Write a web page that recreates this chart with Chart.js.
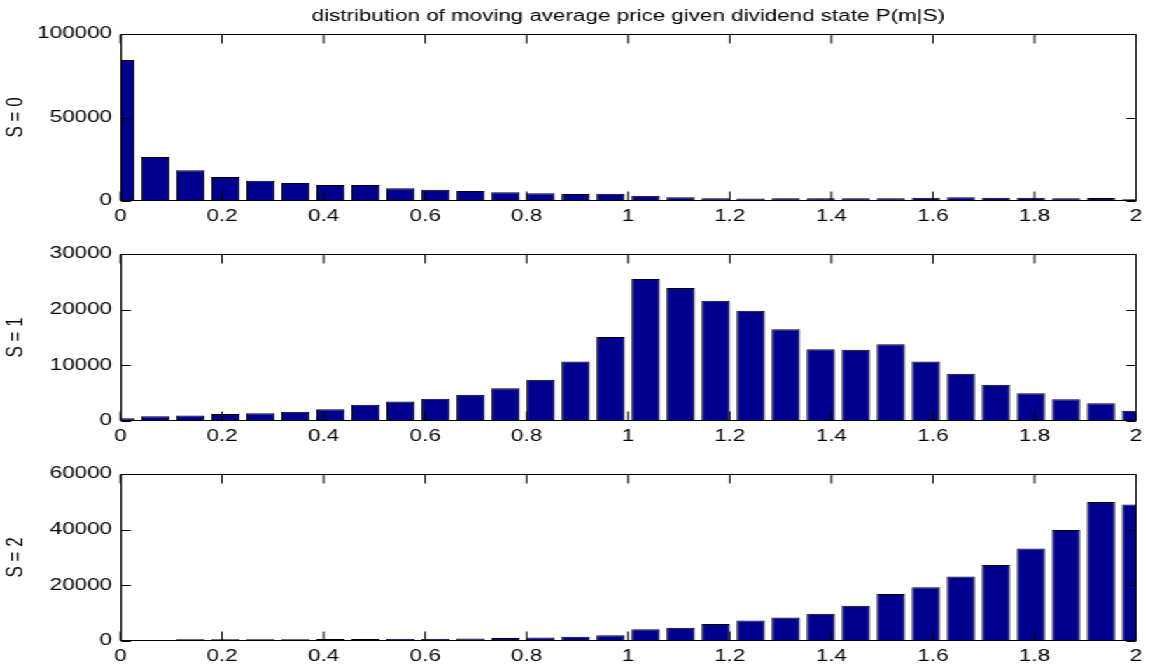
<!DOCTYPE html>
<html>
<head>
<meta charset="utf-8">
<script src="https://cdn.jsdelivr.net/npm/chart.js@4/dist/chart.umd.min.js"></script>
<style>
body{margin:0;background:#fff;width:1151px;height:671px;overflow:hidden}
/* the original figure is stretched sideways, so draw narrow and widen */
#wrap{position:absolute;left:0;top:0;width:822px;height:671px;transform:scaleX(1.4);transform-origin:0 0}
canvas{position:absolute;left:0}
</style>
</head>
<body>
<div id="wrap">
  <canvas id="c0" width="822" height="232" style="top:0"></canvas>
  <canvas id="c1" width="822" height="232" style="top:220px"></canvas>
  <canvas id="c2" width="822" height="231" style="top:440px"></canvas>
</div>
<script>
const plotTitle = 'distribution of moving average price given dividend state P(m|S)';
const panelLabels = ['S = 0', 'S = 1', 'S = 2'];

// bin centres of the moving average price m
const binCenters = [0, 0.069, 0.1379, 0.2069, 0.2759, 0.3448, 0.4138, 0.4828, 0.5517, 0.6207,
  0.6897, 0.7586, 0.8276, 0.8966, 0.9655, 1.0345, 1.1034, 1.1724, 1.2414, 1.3103,
  1.3793, 1.4483, 1.5172, 1.5862, 1.6552, 1.7241, 1.7931, 1.8621, 1.931, 2];

// counts per bin for each dividend state
const countsS0 = [84400, 26400, 18400, 14400, 12200, 10800, 9600, 9600, 7600, 6800,
  6000, 5200, 4600, 4200, 4400, 3200, 2200, 1600, 1500, 1600,
  1600, 1600, 1600, 2000, 2200, 2000, 2000, 1600, 1800, 1000];
const countsS1 = [500, 850, 1000, 1250, 1400, 1650, 2100, 2900, 3500, 4000,
  4700, 5900, 7400, 10700, 15100, 25500, 23900, 21600, 19800, 16500,
  12900, 12800, 13800, 10700, 8500, 6500, 5000, 3900, 3200, 1850];
const countsS2 = [150, 350, 600, 600, 600, 600, 700, 700, 800, 850,
  900, 1050, 1300, 1550, 2050, 4200, 4800, 6100, 7400, 8400,
  9800, 12700, 16900, 19300, 23200, 27300, 33200, 39900, 49900, 49000];

const xTicks = [0, 0.2, 0.4, 0.6, 0.8, 1, 1.2, 1.4, 1.6, 1.8, 2];
const yTicksS0 = [0, 50000, 100000];
const yTicksS1 = [0, 10000, 20000, 30000];
const yTicksS2 = [0, 20000, 40000, 60000];

Chart.defaults.font.family = '"Liberation Sans", Arial, Helvetica, sans-serif';
Chart.defaults.font.size = 16;
Chart.defaults.color = '#000';

// matlab style box with inward ticks on all four sides
const frame = {
  id: 'frame',
  afterDatasetsDraw(chart, args, opts) {
    const {ctx, chartArea: a, scales: {x, y}} = chart;
    const L = Math.round(a.left) + 0.5, R = Math.round(a.right) - 0.5;
    const T = Math.round(a.top) + 0.5, B = Math.round(a.bottom) - 0.5;
    ctx.save();
    ctx.strokeStyle = '#000';
    ctx.lineWidth = 1;
    ctx.strokeRect(L, T, R - L, B - T);
    ctx.beginPath();
    x.ticks.forEach(t => {
      const px = x.getPixelForValue(t.value);
      ctx.moveTo(px, B); ctx.lineTo(px, B - 9);
      ctx.moveTo(px, T); ctx.lineTo(px, T + 9);
    });
    y.ticks.forEach(t => {
      const py = Math.round(y.getPixelForValue(t.value)) + 0.5;
      ctx.moveTo(L, py); ctx.lineTo(L + 7, py);
      ctx.moveTo(R, py); ctx.lineTo(R - 7, py);
    });
    ctx.stroke();
    if (opts.title) {
      ctx.fillStyle = '#000';
      ctx.font = '16px "Liberation Sans", Arial, sans-serif';
      ctx.textAlign = 'center';
      ctx.textBaseline = 'alphabetic';
      ctx.fillText(opts.title, (a.left + a.right) / 2, 21);
    }
    ctx.restore();
  }
};

function makePanel(id, counts, yTicks, label, title) {
  const cv = document.getElementById(id);
  const H = cv.height;
  new Chart(cv, {
    type: 'bar',
    data: {
      datasets: [{
        data: binCenters.map((m, i) => ({x: m, y: counts[i]})),
        backgroundColor: '#00008F',
        borderColor: '#000',
        borderWidth: 1,
        barPercentage: 0.81,
        categoryPercentage: 1
      }]
    },
    options: {
      responsive: false,
      animation: false,
      events: [],
      layout: {padding: {top: 34, right: 8, left: 0, bottom: 0}},
      plugins: {legend: {display: false}, tooltip: {enabled: false}, frame: {title: title}},
      scales: {
        x: {
          type: 'linear', min: 0, max: 2, offset: false,
          grid: {display: false, drawTicks: false},
          border: {display: false},
          afterBuildTicks: s => { s.ticks = xTicks.map(v => ({value: v})); },
          afterFit: s => { s.height = H - 201; },
          ticks: {autoSkip: false, maxRotation: 0, padding: 6,
            callback: v => String(parseFloat(Number(v).toFixed(1)))}
        },
        y: {
          min: yTicks[0], max: yTicks[yTicks.length - 1],
          grid: {display: false, drawTicks: false},
          border: {display: false},
          afterBuildTicks: s => { s.ticks = yTicks.map(v => ({value: v})); },
          afterFit: s => { s.width = 86; },
          ticks: {padding: 6, callback: v => String(v)},
          title: {display: true, text: label, font: {size: 17}, padding: {top: 1, bottom: 0}}
        }
      }
    },
    plugins: [frame]
  });
}

makePanel('c0', countsS0, yTicksS0, panelLabels[0], plotTitle);
makePanel('c1', countsS1, yTicksS1, panelLabels[1], null);
makePanel('c2', countsS2, yTicksS2, panelLabels[2], null);
</script>
</body>
</html>
